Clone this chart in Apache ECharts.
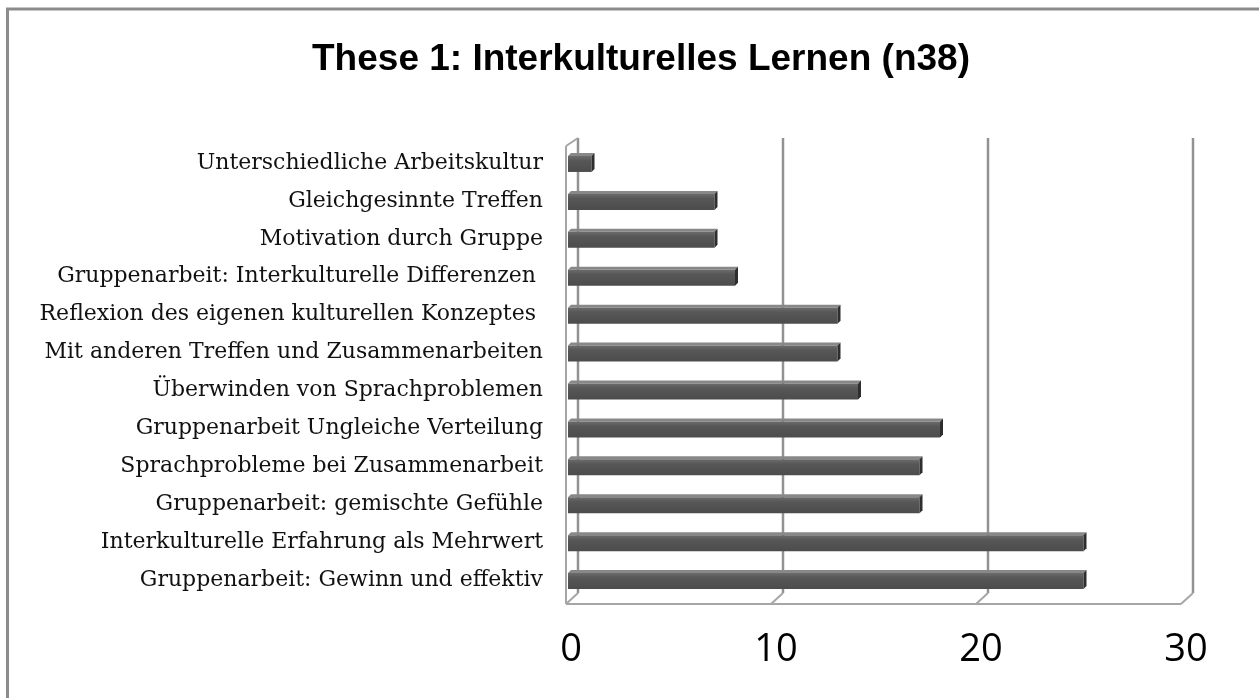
<!DOCTYPE html>
<html>
<head>
<meta charset="utf-8">
<script src="https://cdn.jsdelivr.net/npm/echarts@6/dist/echarts.min.js"></script>
<style>
html, body { margin: 0; padding: 0; background: #fff; }
#chart-panel { width: 1259px; height: 698px; }
</style>
</head>
<body>
<div id="chart-panel"></div>
<script>
var categories = [
	'Unterschiedliche Arbeitskultur',
	'Gleichgesinnte Treffen',
	'Motivation durch Gruppe',
	'Gruppenarbeit: Interkulturelle Differenzen ',
	'Reflexion des eigenen kulturellen Konzeptes ',
	'Mit anderen Treffen und Zusammenarbeiten',
	'Überwinden von Sprachproblemen',
	'Gruppenarbeit Ungleiche Verteilung',
	'Sprachprobleme bei Zusammenarbeit',
	'Gruppenarbeit: gemischte Gefühle',
	'Interkulturelle Erfahrung als Mehrwert',
	'Gruppenarbeit: Gewinn und effektiv'
];
var values = [1, 7, 7, 8, 13, 13, 14, 18, 17, 17, 25, 25];
var ticks = [0, 10, 20, 30];

var myChart = echarts.init(document.getElementById('chart-panel'));

var barData = [];
for (var i = 0; i < values.length; i++) {
	barData.push([values[i], i]);
}
var tickData = [];
for (var t = 0; t < ticks.length; t++) {
	tickData.push([ticks[t], 0]);
}

var frontFill = new echarts.graphic.LinearGradient(0, 0, 0, 1, [
	{ offset: 0, color: '#6c6c6c' },
	{ offset: 0.3, color: '#575757' },
	{ offset: 1, color: '#4c4c4c' }
]);

// 3d look: bar front face + top face + right cap
function renderBar(params, api) {
	var start = api.coord([0, api.value(1)]);
	var end = api.coord([api.value(0), api.value(1)]);
	var x0 = start[0] - 3, x1 = end[0], c = end[1];
	var d = 3;
	return {
		type: 'group',
		children: [
			{ type: 'polygon', shape: { points: [[x0, c - 7], [x1, c - 7], [x1 + d, c - 10], [x0 + d, c - 10]] }, style: { fill: '#888888' } },
			{ type: 'rect', shape: { x: x0, y: c - 7, width: x1 - x0, height: 16 }, style: { fill: frontFill } },
			{ type: 'polygon', shape: { points: [[x1, c - 7], [x1 + d, c - 10], [x1 + d, c + 6], [x1, c + 9]] }, style: { fill: '#2e2e2e' } }
		]
	};
}

// back wall gridlines, floor and left wall
function renderFrame(params, api) {
	var cs = params.coordSys;
	var top = cs.y, bottom = cs.y + cs.height;
	var x = api.coord([api.value(0), 0])[0];
	var bx = 7, by = 6, fx = 5, fy = 5;
	var back = { stroke: '#929292', lineWidth: 2.5 };
	var floor = { stroke: '#a6a6a6', lineWidth: 2 };
	var children = [
		{ type: 'line', shape: { x1: x + bx, y1: top - by, x2: x + bx, y2: bottom - by }, style: back },
		{ type: 'line', shape: { x1: x + bx, y1: bottom - by, x2: x - fx, y2: bottom + fy }, style: floor }
	];
	if (api.value(0) === ticks[0]) {
		children.push(
			{ type: 'line', shape: { x1: x - fx, y1: top + 2, x2: x - fx, y2: bottom + fy }, style: floor },
			{ type: 'line', shape: { x1: x - fx, y1: top + 2, x2: x + bx, y2: top - by }, style: floor },
			{ type: 'line', shape: { x1: x - fx, y1: bottom + fy, x2: cs.x + cs.width - fx, y2: bottom + fy }, style: floor }
		);
	}
	return { type: 'group', children: children };
}

var option = {
	backgroundColor: '#ffffff',
	animation: false,
	title: {
		text: 'These 1: Interkulturelles Lernen (n38)',
		left: 636,
		textAlign: 'center',
		top: 36,
		textStyle: {
			fontFamily: 'Liberation Sans',
			fontWeight: 'bold',
			fontSize: 37,
			color: '#000'
		}
	},
	graphic: [{
		type: 'rect',
		shape: { x: 7.5, y: 9, width: 1400, height: 900 },
		style: { fill: 'none', stroke: '#8c8c8c', lineWidth: 3 },
		silent: true
	}],
	grid: {
		left: 571,
		right: 73,
		top: 144,
		bottom: 99
	},
	xAxis: {
		type: 'value',
		min: 0,
		max: 30,
		interval: 10,
		axisLine: { show: false },
		axisTick: { show: false },
		splitLine: { show: false },
		axisLabel: {
			margin: 32,
			fontFamily: 'Open Sans',
			fontSize: 38,
			color: '#000',
			formatter: function (v) { return v; }
		}
	},
	yAxis: {
		type: 'category',
		inverse: true,
		data: categories,
		axisLine: { show: false },
		axisTick: { show: false },
		splitLine: { show: false },
		axisLabel: {
			margin: 28,
			padding: [5, 0, 0, 0],
			fontFamily: 'DejaVu Serif',
			fontSize: 22,
			color: '#111'
		}
	},
	series: [{
		name: 'frame',
		type: 'custom',
		renderItem: renderFrame,
		encode: { x: 0, y: 1 },
		data: tickData,
		z: 1,
		silent: true
	}, {
		name: 'These 1',
		type: 'custom',
		renderItem: renderBar,
		encode: { x: 0, y: 1 },
		data: barData,
		z: 2
	}]
};
myChart.setOption(option);
</script>
</body>
</html>
